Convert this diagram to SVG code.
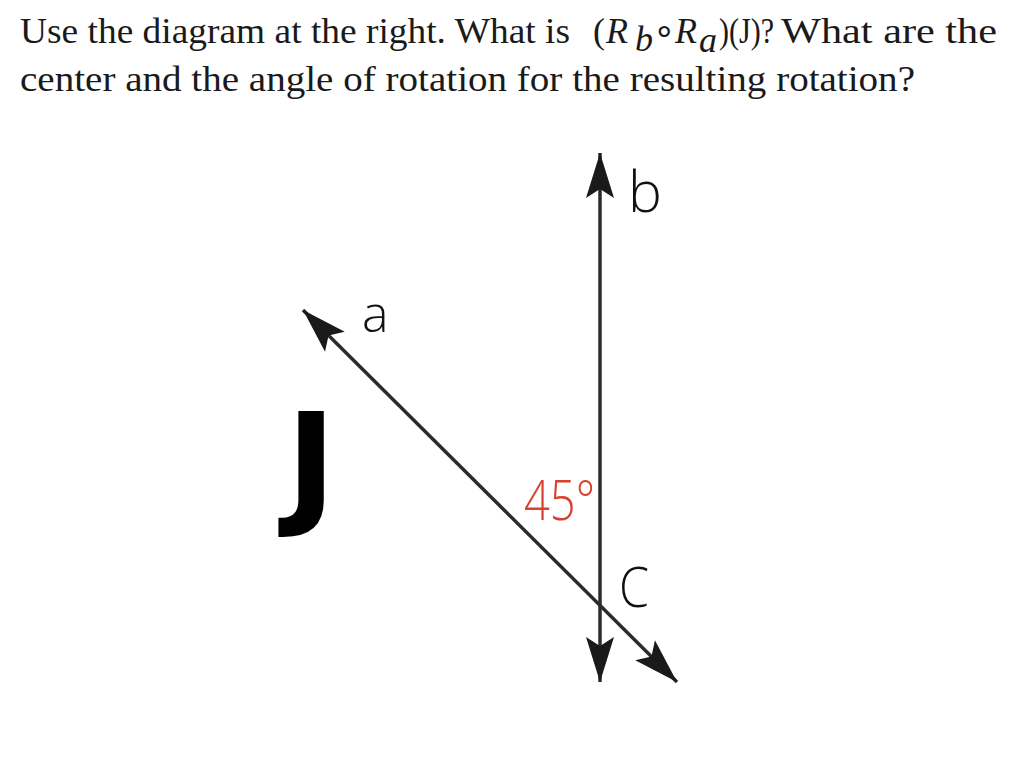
<svg xmlns="http://www.w3.org/2000/svg" width="1024" height="768" viewBox="0 0 1024 768">
  <style>
    .q { font-family: "Liberation Serif", "Times New Roman", serif; font-size: 36px; fill: #1a1a1a; }
    .qi { font-style: italic; }
    .lbl { font-family: "Open Sans", "DejaVu Sans", sans-serif; font-weight: 300; fill: #111; }
    .ln { stroke: #2b2b2b; stroke-width: 3.5; fill: none; }
  </style>
  <defs>
    <marker id="arr" viewBox="-46 -16 48 32" refX="0" refY="0" markerUnits="userSpaceOnUse" markerWidth="48" markerHeight="32" orient="auto-start-reverse">
      <path d="M0,0 L-45,-14 L-36,0 L-45,14 Z" fill="#1a1a1a"/>
    </marker>
  </defs>
  <rect width="1024" height="768" fill="#ffffff"/>

  <g id="question">
    <text class="q" x="20" y="43" textLength="550" lengthAdjust="spacingAndGlyphs">Use the diagram at the right. What is</text>
    <text class="q" x="593" y="43">(</text>
    <text class="q qi" x="606" y="43">R</text>
    <text class="q qi" x="635" y="51" font-size="27">b</text>
    <text class="q" x="653" y="42" font-size="26">∘</text>
    <text class="q qi" x="675" y="43">R</text>
    <text class="q qi" x="699" y="52" font-size="26">a</text>
    <text class="q" x="719" y="43" textLength="55" lengthAdjust="spacingAndGlyphs">)(J)?</text>
    <text class="q" x="781" y="43" textLength="216" lengthAdjust="spacingAndGlyphs">What are the</text>
    <text class="q" x="20" y="91" textLength="895" lengthAdjust="spacingAndGlyphs">center and the angle of rotation for the resulting rotation?</text>
  </g>

  <g id="connectors">
    <line id="line-b" class="ln" x1="600" y1="682" x2="600" y2="153" marker-start="url(#arr)" marker-end="url(#arr)"/>
    <line id="line-a" class="ln" x1="677" y1="682" x2="303" y2="310" marker-start="url(#arr)" marker-end="url(#arr)"/>
  </g>

  <g id="label-a"><text class="lbl" x="362" y="332" font-size="50">a</text></g>
  <g id="label-b"><text class="lbl" x="628" y="212" font-size="57">b</text></g>
  <g id="label-c"><text class="lbl" x="619" y="607" font-size="55" textLength="30" lengthAdjust="spacingAndGlyphs">C</text></g>
  <g id="angle"><text class="lbl" x="524" y="520" font-size="55" style="fill:#d9412e" textLength="71" lengthAdjust="spacingAndGlyphs">45°</text></g>
  <g id="figure-j"><text x="286" y="510" font-family="DejaVu Sans, sans-serif" font-weight="bold" font-size="135" fill="#000">J</text></g>
</svg>
